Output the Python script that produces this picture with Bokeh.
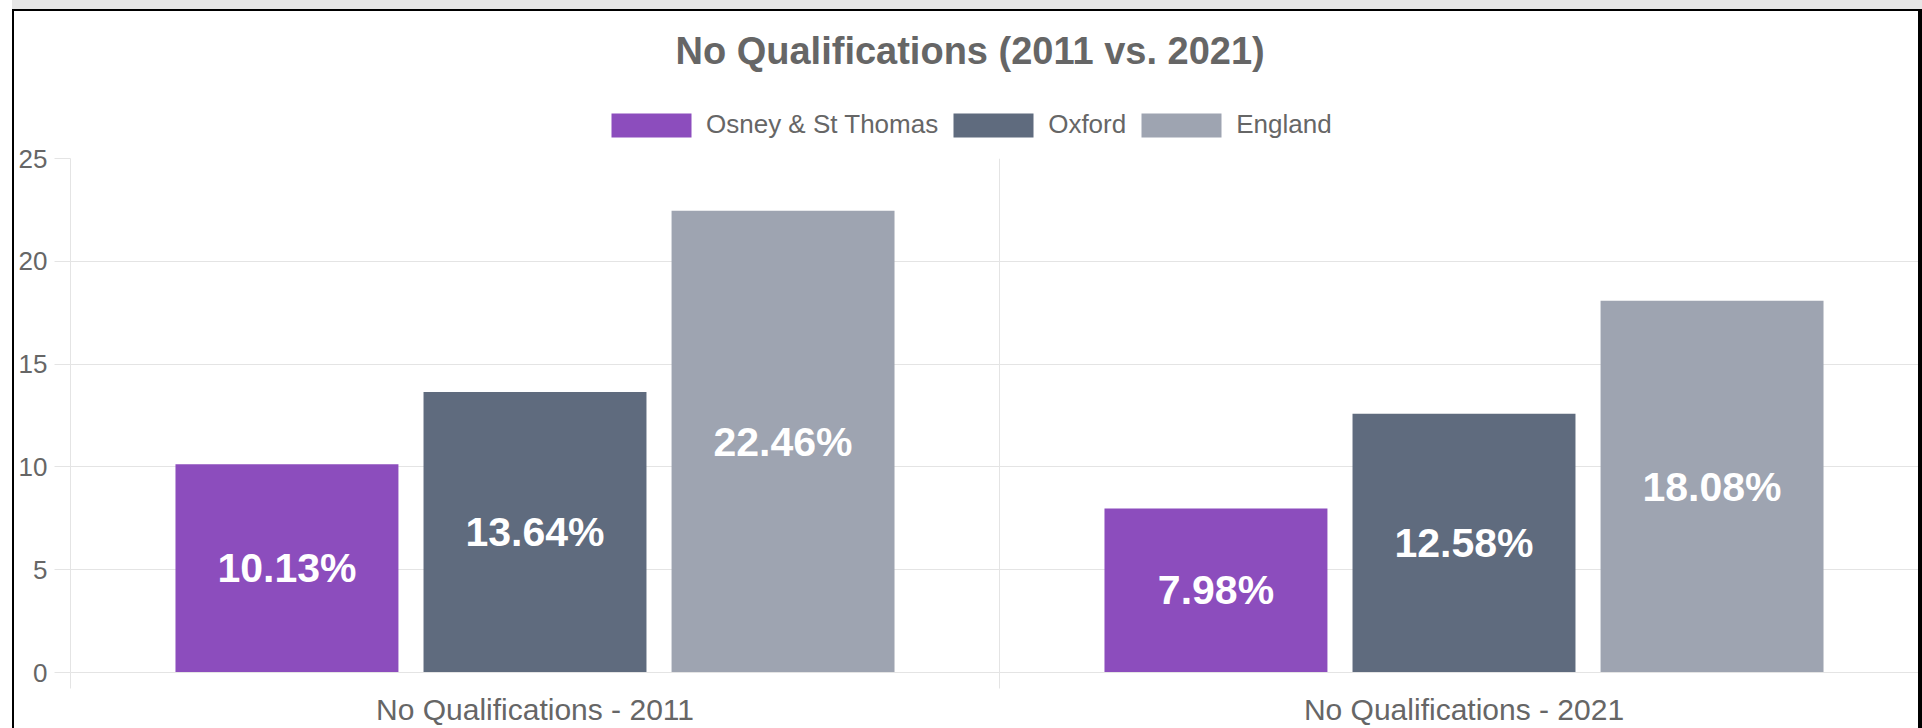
from bokeh.plotting import figure
from bokeh.layouts import column, row
from bokeh.models import Range1d, FixedTicker, Legend, LegendItem, Div
from bokeh.embed import file_html
from bokeh.resources import INLINE
from bokeh.core.properties import value

# ---- data ----
title_text = "No Qualifications (2011 vs. 2021)"
categories = ["No Qualifications - 2011", "No Qualifications - 2021"]
series_names = ["Osney & St Thomas", "Oxford", "England"]
osney = [10.13, 7.98]
oxford = [13.64, 12.58]
england = [22.46, 18.08]
colors = ["#8C4DBD", "#5F6B7E", "#9EA4B1"]
y_ticks = [0, 5, 10, 15, 20, 25]

# ---- style ----
FONT = "Liberation Sans"
GRID = "#e4e4e4"
TXT = "#666666"
PAGE_W, PAGE_H = 1922, 728
BAND_H = 9          # grey strip above the framed chart
EDGE_X = 12         # white gap left of the black frame
LINE_L, LINE_T, LINE_R = 2, 2, 4
INNER_W = PAGE_W - EDGE_X - LINE_L - LINE_R
HEAD_H = 134
BODY_H = PAGE_H - BAND_H - LINE_T - HEAD_H
BORDER_L = 70 - EDGE_X - LINE_L
CAT_PX = 929
FRAME_W = INNER_W - BORDER_L
BAR_STEP = 0.267
BAR_W = 0.24

series_vals = [osney, oxford, england]
bar_x = [[j + 0.5 + (i - 1) * BAR_STEP for j in range(len(categories))]
         for i in range(len(series_names))]

# ---- header: title + legend ----
head = figure(width=INNER_W, height=HEAD_H, output_backend="svg", toolbar_location=None,
              x_axis_location=None, y_axis_location=None,
              x_range=Range1d(100, 101), y_range=Range1d(100, 101),
              min_border_left=BORDER_L, min_border_right=0, min_border_top=76,
              min_border_bottom=0, title=title_text)
head.grid.visible = False
head.outline_line_color = None
head.title.align = "left"
head.title.offset = 605
head.title.text_font = FONT
head.title.text_font_size = "38px"
head.title.text_font_style = "bold"
head.title.text_color = TXT
head.title.standoff = 32

items = []
for i, (name, col) in enumerate(zip(series_names, colors)):
    # legend-only copy of each series (hidden; only its swatch is shown)
    r = head.vbar(x=bar_x[i], top=series_vals[i], width=BAR_W, fill_color=col,
                  line_color=None, visible=False)
    items.append(LegendItem(label=name, renderers=[r]))

legend = Legend(items=items, orientation="horizontal", location=(531, 5),
                padding=0, spacing=5, label_standoff=5, glyph_width=100,
                glyph_height=30, label_text_font_size="26px", label_text_color=TXT,
                label_text_font=FONT, border_line_color=None,
                background_fill_alpha=0, margin=0, inactive_fill_alpha=0)
head.add_layout(legend)

# ---- chart ----
p = figure(width=INNER_W, height=BODY_H, output_backend="svg", toolbar_location=None,
           x_range=Range1d(0, FRAME_W / CAT_PX), y_range=Range1d(0, 25),
           min_border_left=BORDER_L, min_border_right=0, min_border_top=13,
           min_border_bottom=55)

for i, vals in enumerate(series_vals):
    p.vbar(x=bar_x[i], top=vals, width=BAR_W, fill_color=colors[i], line_color=None)
    p.text(x=bar_x[i], y=[v / 2 for v in vals], text=[f"{v:.2f}%" for v in vals],
           text_align="center", text_baseline="middle", text_color="white",
           text_font=value(FONT), text_font_style="bold", text_font_size="41px")

xa = p.xaxis[0]
xa.ticker = FixedTicker(ticks=[0.5, 1.5], minor_ticks=[0, 1, 2])
xa.major_label_overrides = {0.5: categories[0], 1.5: categories[1]}
xa.major_tick_line_color = None
xa.major_tick_out = 16
xa.major_tick_in = 0
xa.minor_tick_out = 16
xa.minor_tick_in = 0
xa.minor_tick_line_color = GRID
xa.axis_line_color = GRID
xa.major_label_standoff = 4
xa.major_label_text_font = FONT
xa.major_label_text_font_size = "30px"
xa.major_label_text_color = TXT

ya = p.yaxis[0]
ya.ticker = FixedTicker(ticks=y_ticks)
ya.major_tick_out = 16
ya.major_tick_in = 0
ya.major_tick_line_color = GRID
ya.minor_tick_line_color = None
ya.axis_line_color = GRID
ya.major_label_standoff = 7
ya.major_label_text_font = FONT
ya.major_label_text_font_size = "26px"
ya.major_label_text_color = TXT

p.xgrid.ticker = FixedTicker(ticks=[0, 1, 2])
p.xgrid.grid_line_color = GRID
p.ygrid.grid_line_color = GRID
p.outline_line_color = None


def block(w, h, color):
    return Div(text="", width=w, height=h, margin=0,
               styles={"background-color": color})


inner_h = LINE_T + HEAD_H + BODY_H
layout = column(
    row(block(EDGE_X, BAND_H, "white"), block(PAGE_W - EDGE_X, BAND_H, "#e6e6e6"), spacing=0),
    row(block(EDGE_X, inner_h, "white"), block(LINE_L, inner_h, "black"),
        column(block(INNER_W, LINE_T, "black"), head, p, spacing=0),
        block(LINE_R, inner_h, "black"), spacing=0),
    spacing=0)
open("out.html", "w").write(file_html(layout, INLINE))
